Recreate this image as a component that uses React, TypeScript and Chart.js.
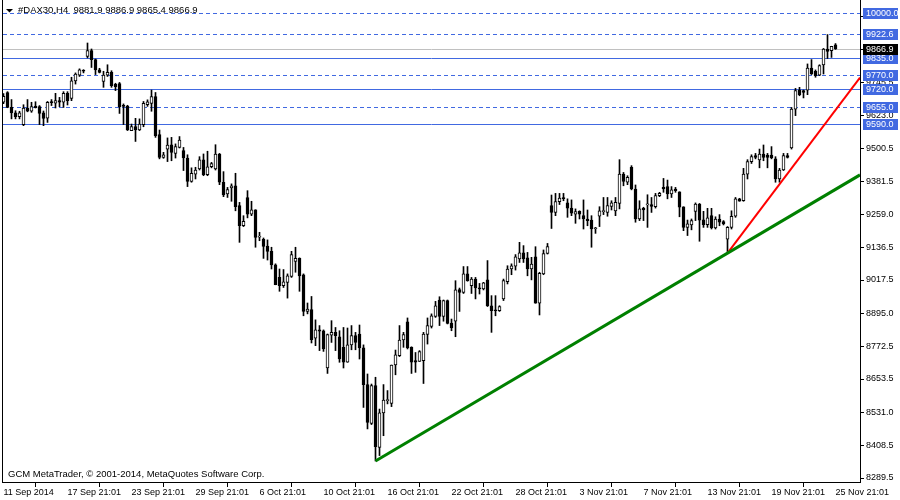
import { useEffect, useRef } from 'react';
import { Chart, registerables } from 'chart.js';

Chart.register(...registerables);

// ---- DATA (H4 candles, #DAX30) ----
const opens = [
  9671, 9707, 9652, 9632, 9618, 9589, 9649, 9638, 9657, 9655, 9632, 9613, 9673, 9668, 9677, 9671, 9704, 9685, 9750, 9771,
  9788, 9840, 9861, 9828, 9790, 9748, 9771, 9781, 9737, 9740, 9659, 9657, 9567, 9582, 9569, 9589, 9662, 9667, 9692, 9552,
  9468, 9499, 9515, 9483, 9505, 9493, 9466, 9380, 9407, 9426, 9459, 9405, 9434, 9426, 9481, 9377, 9334, 9356, 9364, 9291,
  9217, 9321, 9260, 9276, 9175, 9167, 9142, 9123, 9073, 9027, 8997, 9009, 9031, 9086, 9097, 9037, 8902, 8909, 8804, 8834,
  8831, 8694, 8815, 8825, 8809, 8770, 8715, 8779, 8813, 8819, 8768, 8633, 8490, 8629, 8402, 8529, 8574, 8564, 8705, 8739,
  8797, 8864, 8770, 8721, 8718, 8721, 8817, 8847, 8884, 8944, 8884, 8942, 8859, 8866, 8982, 8972, 9040, 8997, 9021, 8988,
  8985, 9018, 8923, 8906, 8905, 8948, 9011, 9058, 9068, 9095, 9117, 9099, 9058, 9103, 8932, 9040, 9115, 9291, 9266, 9306,
  9318, 9301, 9282, 9260, 9270, 9254, 9242, 9238, 9206, 9252, 9269, 9266, 9288, 9272, 9299, 9407, 9377, 9432, 9352, 9242,
  9281, 9294, 9295, 9287, 9328, 9358, 9361, 9334, 9352, 9342, 9287, 9211, 9220, 9270, 9297, 9239, 9221, 9254, 9209, 9242,
  9232, 9168, 9211, 9252, 9316, 9309, 9407, 9453, 9475, 9459, 9481, 9477, 9477, 9463, 9389, 9422, 9475, 9503, 9646, 9716,
  9714, 9716, 9797, 9785, 9771, 9808, 9867, 9861, 9881.9,
];
const highs = [
  9703, 9710, 9681, 9640, 9638, 9662, 9681, 9671, 9673, 9659, 9639, 9674, 9681, 9704, 9689, 9710, 9710, 9763, 9779, 9794,
  9791, 9889, 9867, 9830, 9796, 9785, 9809, 9787, 9741, 9744, 9665, 9660, 9591, 9612, 9610, 9674, 9680, 9716, 9707, 9569,
  9487, 9540, 9542, 9518, 9545, 9505, 9478, 9430, 9432, 9471, 9481, 9491, 9450, 9515, 9483, 9416, 9358, 9371, 9410, 9303,
  9254, 9346, 9307, 9276, 9193, 9172, 9165, 9138, 9077, 9058, 9056, 9040, 9123, 9138, 9099, 9040, 8933, 8957, 8871, 8850,
  8834, 8819, 8868, 8843, 8831, 8843, 8841, 8850, 8825, 8852, 8779, 8672, 8635, 8660, 8543, 8633, 8611, 8705, 8760, 8850,
  8825, 8878, 8772, 8751, 8758, 8825, 8878, 8893, 8939, 8956, 8944, 8944, 8874, 9015, 8988, 9067, 9067, 9027, 9027, 9005,
  9009, 9089, 8960, 8960, 8923, 9021, 9070, 9077, 9111, 9156, 9144, 9119, 9101, 9140, 9046, 9128, 9152, 9330, 9336, 9336,
  9336, 9316, 9312, 9279, 9272, 9312, 9275, 9254, 9211, 9287, 9321, 9321, 9309, 9321, 9460, 9413, 9401, 9438, 9367, 9309,
  9285, 9331, 9321, 9336, 9340, 9391, 9385, 9361, 9358, 9342, 9287, 9238, 9242, 9301, 9299, 9270, 9281, 9281, 9250, 9258,
  9236, 9214, 9272, 9321, 9318, 9428, 9460, 9478, 9483, 9499, 9514, 9483, 9508, 9471, 9428, 9483, 9483, 9652, 9722, 9726,
  9716, 9812, 9828, 9790, 9809, 9869, 9920, 9877, 9886.9,
];
const lows = [
  9666, 9651, 9610, 9610, 9610, 9585, 9636, 9634, 9650, 9589, 9585, 9597, 9659, 9650, 9655, 9652, 9661, 9677, 9738, 9766,
  9779, 9834, 9799, 9773, 9779, 9726, 9766, 9726, 9714, 9630, 9589, 9567, 9567, 9527, 9567, 9581, 9656, 9638, 9542, 9463,
  9465, 9453, 9456, 9466, 9503, 9420, 9361, 9377, 9389, 9422, 9401, 9401, 9430, 9422, 9368, 9324, 9321, 9307, 9272, 9156,
  9214, 9246, 9254, 9138, 9162, 9097, 9091, 9058, 9000, 8976, 8990, 8951, 9027, 9046, 8976, 8886, 8893, 8786, 8776, 8758,
  8755, 8674, 8788, 8758, 8715, 8694, 8715, 8761, 8761, 8727, 8549, 8470, 8486, 8352, 8372, 8445, 8562, 8552, 8669, 8736,
  8770, 8764, 8674, 8678, 8718, 8637, 8782, 8841, 8880, 8850, 8866, 8856, 8831, 8809, 8902, 8968, 9013, 8968, 8948, 8966,
  8981, 8920, 8825, 8886, 8902, 8942, 9003, 9037, 9054, 9082, 9082, 9033, 9018, 8932, 8889, 9037, 9113, 9207, 9254, 9295,
  9309, 9248, 9254, 9226, 9242, 9205, 9217, 9138, 9189, 9214, 9258, 9252, 9275, 9254, 9279, 9364, 9368, 9349, 9230, 9236,
  9236, 9211, 9266, 9282, 9324, 9340, 9316, 9321, 9340, 9250, 9199, 9181, 9202, 9236, 9160, 9211, 9211, 9205, 9205, 9217,
  9220, 9116, 9205, 9248, 9307, 9307, 9389, 9446, 9463, 9430, 9456, 9430, 9463, 9377, 9377, 9420, 9466, 9499, 9622, 9695,
  9687, 9699, 9773, 9763, 9769, 9775, 9832, 9836, 9865.4,
];
const closes = [
  9693, 9652, 9632, 9618, 9632, 9650, 9638, 9655, 9651, 9630, 9612, 9671, 9670, 9677, 9671, 9704, 9677, 9750, 9775, 9790,
  9785, 9861, 9828, 9790, 9781, 9771, 9781, 9732, 9728, 9655, 9656, 9569, 9582, 9569, 9591, 9667, 9673, 9692, 9548, 9468,
  9478, 9514, 9487, 9508, 9532, 9466, 9380, 9410, 9422, 9459, 9405, 9434, 9446, 9481, 9377, 9330, 9350, 9364, 9287, 9217,
  9233, 9260, 9276, 9174, 9177, 9141, 9123, 9073, 9000, 8997, 9011, 9033, 9111, 9097, 9033, 8902, 8911, 8798, 8834, 8829,
  8764, 8817, 8825, 8813, 8727, 8715, 8779, 8813, 8788, 8768, 8633, 8494, 8629, 8405, 8529, 8576, 8578, 8705, 8742, 8797,
  8817, 8768, 8715, 8715, 8754, 8819, 8850, 8886, 8923, 8884, 8942, 8858, 8841, 8981, 8972, 9040, 9015, 9021, 8988, 8985,
  9007, 8923, 8905, 8904, 8920, 9015, 9058, 9070, 9103, 9117, 9095, 9058, 9076, 8932, 9042, 9115, 9140, 9266, 9306, 9319,
  9317, 9282, 9263, 9269, 9260, 9242, 9236, 9205, 9207, 9272, 9271, 9291, 9301, 9303, 9407, 9380, 9395, 9352, 9242, 9279,
  9275, 9295, 9288, 9328, 9336, 9352, 9334, 9349, 9346, 9285, 9211, 9224, 9236, 9297, 9238, 9221, 9246, 9209, 9242, 9230,
  9224, 9211, 9252, 9316, 9307, 9407, 9453, 9471, 9468, 9481, 9468, 9468, 9466, 9389, 9422, 9475, 9468, 9646, 9714, 9699,
  9707, 9797, 9775, 9769, 9806, 9867, 9858, 9877, 9866.9,
];

// x-axis: bar index of each time label
const xTickBars = [0, 16, 32, 48, 64, 80, 96, 112, 128, 144, 160, 176, 192, 208];
const xTickLabels = [
  '11 Sep 2014', '17 Sep 21:01', '23 Sep 21:01', '29 Sep 21:01', '6 Oct 21:01', '10 Oct 21:01', '16 Oct 21:01',
  '22 Oct 21:01', '28 Oct 21:01', '3 Nov 21:01', '7 Nov 21:01', '13 Nov 21:01', '19 Nov 21:01', '25 Nov 21:01',
];
// y-axis price ticks
const yTickValues = [
  8289.5, 8408.5, 8531.0, 8653.5, 8772.5, 8895.0, 9017.5, 9136.5, 9259.0, 9381.5, 9500.5, 9623.0, 9745.5, 9864.5, 9987.0,
];

// horizontal levels
const solidLevels = [9835.0, 9720.0, 9590.0];
const dashedLevels = [10000.0, 9922.6, 9770.0, 9655.0];
const bidPrice = 9866.9;

// trend lines (bar index, price)
const greenTrendBars = [93, 214.125];
const greenTrendPrices = [8352, 9404];
const redTrendBars = [181, 214.125];
const redTrendPrices = [9116, 9762];

const symbolText = '#DAX30,H4';
const copyrightText = 'GCM MetaTrader, \u00A9 2001-2014, MetaQuotes Software Corp.';

const FONT_FAMILY = "'Liberation Sans', Arial, sans-serif";
const FONT_SIZE = 9;
const TEXT_FONT_SIZE = 9.5;
const LEVEL_BLUE = '#4169E1';

export default function App() {
  const canvasRef = useRef<HTMLCanvasElement | null>(null);

  useEffect(() => {
    const canvas = canvasRef.current;
    if (!canvas) return;
    const last = opens.length - 1;
    const titleText = `${symbolText}  ${opens[last].toFixed(1)} ${highs[last].toFixed(1)} ${lows[last].toFixed(1)} ${closes[last].toFixed(1)}`;
    const fontStr = `${FONT_SIZE}px ${FONT_FAMILY}`;
    const textFontStr = `${TEXT_FONT_SIZE}px ${FONT_FAMILY}`;

    const levelsPlugin = {
      id: 'levels',
      beforeDatasetsDraw(chart: any) {
        const { ctx, chartArea: a, scales } = chart;
        const y = scales.y;
        ctx.save();
        ctx.lineWidth = 1;
        const drawLine = (v: number, color: string, dash: number[]) => {
          const py = Math.round(y.getPixelForValue(v)) + 0.5;
          ctx.strokeStyle = color;
          ctx.setLineDash(dash);
          ctx.beginPath();
          ctx.moveTo(a.left, py);
          ctx.lineTo(a.right, py);
          ctx.stroke();
        };
        drawLine(bidPrice, '#C0C0C0', []);
        solidLevels.forEach((v) => drawLine(v, LEVEL_BLUE, []));
        dashedLevels.forEach((v) => drawLine(v, LEVEL_BLUE, [4, 3]));
        ctx.restore();
      },
      afterDraw(chart: any) {
        const { ctx, chartArea: a, scales } = chart;
        const y = scales.y;
        ctx.save();
        // left frame
        ctx.strokeStyle = '#000';
        ctx.lineWidth = 1;
        ctx.beginPath();
        ctx.moveTo(a.left - 0.5, a.top);
        ctx.lineTo(a.left - 0.5, a.bottom + 1);
        ctx.stroke();
        // price boxes
        ctx.font = fontStr;
        ctx.textBaseline = 'middle';
        ctx.textAlign = 'left';
        const box = (v: number, fill: string) => {
          const py = Math.round(y.getPixelForValue(v));
          ctx.fillStyle = fill;
          ctx.fillRect(a.right + 3, py - 5, 35, 11);
          ctx.fillStyle = '#fff';
          ctx.fillText(v.toFixed(1), a.right + 6, py + 0.5);
        };
        [...dashedLevels, ...solidLevels].forEach((v) => box(v, LEVEL_BLUE));
        box(bidPrice, '#000');
        // title
        ctx.fillStyle = '#000';
        ctx.beginPath();
        ctx.moveTo(6, 9);
        ctx.lineTo(13, 9);
        ctx.lineTo(9.5, 12.5);
        ctx.closePath();
        ctx.fill();
        ctx.font = textFontStr;
        ctx.fillText(titleText, 18, 10.5);
        ctx.fillText(copyrightText, 8, 474.5);
        ctx.restore();
      },
    };

    const chart = new Chart(canvas, {
      type: 'bar',
      data: {
        datasets: [
          {
            type: 'line',
            label: 'green',
            data: greenTrendBars.map((b, i) => ({ x: b, y: greenTrendPrices[i] })),
            borderColor: '#008000',
            borderWidth: 3,
            pointRadius: 0,
            fill: false,
            tension: 0,
            order: 1,
          } as any,
          {
            type: 'line',
            label: 'red',
            data: redTrendBars.map((b, i) => ({ x: b, y: redTrendPrices[i] })),
            borderColor: '#FF0000',
            borderWidth: 2,
            pointRadius: 0,
            fill: false,
            tension: 0,
            order: 1,
          } as any,
          {
            type: 'bar',
            label: 'bodies',
            data: opens.map((o, i) => ({ x: i, y: [o, closes[i]] })),
            backgroundColor: opens.map((o, i) => (closes[i] >= o ? '#FFFFFF' : '#000000')),
            borderColor: '#000000',
            borderWidth: 1,
            borderSkipped: false,
            grouped: false,
            barPercentage: 1,
            categoryPercentage: 1,
            maxBarThickness: 3,
            minBarLength: 1,
            order: 2,
          } as any,
          {
            type: 'bar',
            label: 'wicks',
            data: opens.map((_, i) => ({ x: i, y: [lows[i], highs[i]] })),
            backgroundColor: '#000000',
            borderWidth: 0,
            grouped: false,
            barPercentage: 1,
            categoryPercentage: 1,
            maxBarThickness: 1,
            minBarLength: 1,
            order: 3,
          } as any,
        ],
      },
      options: {
        responsive: false,
        maintainAspectRatio: false,
        devicePixelRatio: 1,
        animation: false,
        events: [],
        layout: { padding: { left: 3, top: 0, right: 0, bottom: 0 } },
        plugins: { legend: { display: false }, tooltip: { enabled: false }, title: { display: false } },
        scales: {
          x: {
            type: 'linear',
            min: -0.125,
            max: 214.125,
            offset: false,
            afterFit: (s: any) => {
              s.height = 18;
              s.paddingLeft = 0;
              s.paddingRight = 0;
            },
            afterBuildTicks: (s: any) => {
              s.ticks = xTickBars.map((v) => ({ value: v }));
            },
            grid: { display: true, drawOnChartArea: false, drawTicks: true, tickLength: 5, color: '#000' },
            border: { display: true, color: '#000', width: 1 },
            ticks: {
              autoSkip: false,
              maxRotation: 0,
              minRotation: 0,
              align: 'start',
              padding: 0,
              color: '#000',
              font: { family: FONT_FAMILY, size: FONT_SIZE },
              callback: (_v: any, idx: number) => xTickLabels[idx],
            },
          },
          y: {
            type: 'linear',
            position: 'right',
            min: 8274.8,
            max: 10047.1,
            afterFit: (s: any) => {
              s.width = 40;
              s.paddingTop = 0;
              s.paddingBottom = 0;
            },
            afterBuildTicks: (s: any) => {
              s.ticks = yTickValues.map((v) => ({ value: v }));
            },
            grid: { display: true, drawOnChartArea: false, drawTicks: true, tickLength: 4, color: '#000' },
            border: { display: true, color: '#000', width: 1 },
            ticks: {
              autoSkip: false,
              padding: 2,
              color: '#000',
              font: { family: FONT_FAMILY, size: FONT_SIZE },
              callback: (v: any) => Number(v).toFixed(1),
            },
          },
        },
      } as any,
      plugins: [levelsPlugin],
    });
    return () => chart.destroy();
  }, []);

  return (
    <div style={{ position: 'fixed', left: 0, top: 0, width: 900, height: 500, background: '#fff' }}>
      <canvas ref={canvasRef} width={900} height={500} style={{ display: 'block', width: 900, height: 500 }} />
    </div>
  );
}
